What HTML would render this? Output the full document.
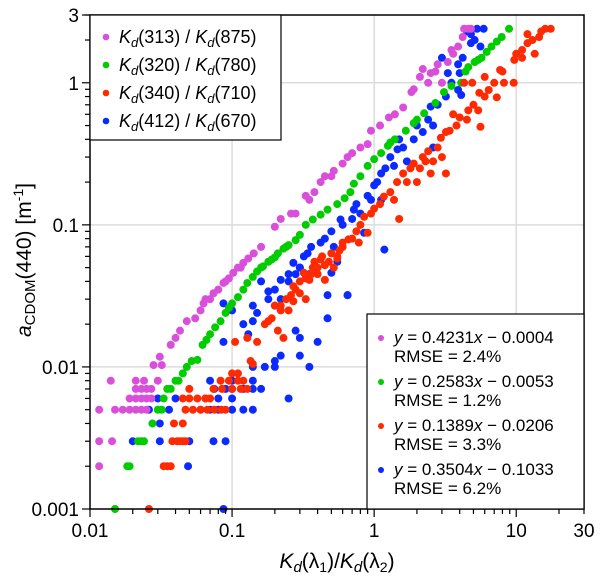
<!DOCTYPE html>
<html><head><meta charset="utf-8">
<style>
html,body{margin:0;padding:0;background:#fff;}
svg{display:block;font-family:"Liberation Sans",sans-serif;}
</style></head>
<body>
<svg id="chart" width="600" height="582" viewBox="0 0 600 582" xmlns="http://www.w3.org/2000/svg">
<g id="grid"></g>
<g id="points"></g>
<rect x="90" y="15" width="494" height="494" fill="none" stroke="#000" stroke-width="1.5"/>
<g id="axes"></g>
<text x="337" y="568" font-size="21" text-anchor="middle"><tspan font-style="italic">K</tspan><tspan font-style="italic" font-size="15" dy="4">d</tspan><tspan dy="-4">(λ</tspan><tspan font-size="14" dy="4">1</tspan><tspan dy="-4">)/</tspan><tspan font-style="italic">K</tspan><tspan font-style="italic" font-size="15" dy="4">d</tspan><tspan dy="-4">(λ</tspan><tspan font-size="14" dy="4">2</tspan><tspan dy="-4">)</tspan></text>
<text transform="translate(31,260) rotate(-90)" font-size="21" text-anchor="middle"><tspan font-style="italic">a</tspan><tspan font-size="15" dy="4">CDOM</tspan><tspan dy="-4">(440) [m</tspan><tspan font-size="14" dy="-8">-1</tspan><tspan dy="8">]</tspan></text>
<g>
<rect x="90" y="15" width="191" height="125" fill="#fff" stroke="#000" stroke-width="1.2"/>
<g id="leg1"></g>
</g>
<g>
<rect x="367" y="314" width="217" height="195" fill="#fff" stroke="#000" stroke-width="1.2"/>
<g id="leg2"></g>
</g>
</svg>
<script>
// ---- data ----
const xTicks = [0.01, 0.1, 1, 10, 30];
const xTickLabels = ["0.01", "0.1", "1", "10", "30"];
const yTicks = [0.001, 0.01, 0.1, 1, 3];
const yTickLabels = ["0.001", "0.01", "0.1", "1", "3"];
const seriesNames = ["313/875", "320/780", "340/710", "412/670"];
const seriesColors = ["#d94fd9", "#00cc00", "#ff2a00", "#0a2aff"];
const fitEquations = ["0.4231x − 0.0004", "0.2583x − 0.0053", "0.1389x − 0.0206", "0.3504x − 0.1033"];
const fitRmse = ["2.4%", "1.2%", "3.3%", "6.2%"];

const magentaX = [0.0116,0.0116,0.0143,0.0116,0.015,0.017,0.019,0.021,0.023,0.025,0.019,0.021,0.023,0.025,0.027,0.021,0.023,0.025,0.027,0.021,0.024,0.014,0.03,0.028,0.032,0.031,0.037,0.04,0.043,0.048,0.055,0.06,0.063,0.074,0.08,0.087,0.095,0.102,0.11,0.12,0.13,0.142,0.2,0.22,0.26,0.35,0.33,0.42,0.45,0.52,0.65,0.7,0.9,0.95,1.27,1.6,1.83,1.9,2.5,2.4,3.0,3.3,3.9,4.6,4.3,2.2,2.8,3.6,0.065,0.07,0.09,0.115,0.16,0.28,0.38,0.5,0.6,0.8,1.1,1.4,2.1,2.7,3.5,4.2,4.8];
const magentaY = [0.002,0.003,0.003,0.005,0.005,0.005,0.005,0.005,0.005,0.005,0.006,0.006,0.006,0.006,0.006,0.007,0.007,0.007,0.007,0.008,0.008,0.008,0.008,0.0103,0.0103,0.0118,0.0143,0.016,0.018,0.021,0.022,0.025,0.028,0.033,0.035,0.039,0.042,0.046,0.05,0.054,0.058,0.063,0.097,0.11,0.12,0.15,0.16,0.2,0.22,0.24,0.3,0.32,0.37,0.46,0.57,0.67,0.86,0.9,1.17,1.0,1.0,1.4,1.8,2.4,2.4,1.25,1.35,1.6,0.03,0.03,0.04,0.05,0.07,0.12,0.17,0.22,0.27,0.35,0.5,0.6,1.1,1.2,1.7,2.1,2.4];

const greenX = [0.015,0.0183,0.019,0.0218,0.023,0.024,0.0275,0.03,0.032,0.033,0.035,0.037,0.04,0.042,0.045,0.048,0.052,0.057,0.062,0.066,0.07,0.076,0.083,0.09,0.095,0.1,0.11,0.12,0.128,0.14,0.15,0.165,0.18,0.2,0.21,0.23,0.25,0.28,0.3,0.37,0.42,0.47,0.62,0.72,0.8,0.9,1.0,1.12,1.25,1.4,1.67,1.9,2.25,2.7,3.1,4.1,4.6,5.1,5.7,6.2,6.7,7.3,7.9,8.9,0.16,0.19,0.24,0.33,0.55,0.68,1.3,2.0,3.5,4.4,5.4];
const greenY = [0.001,0.002,0.002,0.003,0.003,0.003,0.004,0.005,0.005,0.006,0.007,0.007,0.008,0.008,0.009,0.01,0.011,0.0112,0.0143,0.0155,0.017,0.019,0.021,0.024,0.026,0.028,0.031,0.035,0.039,0.043,0.047,0.051,0.055,0.059,0.063,0.068,0.072,0.078,0.085,0.109,0.118,0.128,0.154,0.195,0.22,0.26,0.29,0.32,0.36,0.4,0.46,0.52,0.61,0.72,0.86,1.0,1.29,1.4,1.5,1.65,1.8,1.95,2.1,2.4,0.05,0.057,0.07,0.1,0.14,0.17,0.38,0.55,0.95,1.2,1.45];

const redX = [0.026,0.033,0.035,0.037,0.038,0.041,0.043,0.045,0.047,0.039,0.045,0.047,0.053,0.06,0.067,0.075,0.084,0.09,0.045,0.05,0.057,0.065,0.07,0.05,0.074,0.085,0.1,0.115,0.128,0.083,0.095,0.11,0.12,0.1,0.11,0.105,0.128,0.135,0.14,0.18,0.21,0.23,0.22,0.27,0.32,0.37,0.42,0.5,0.57,0.35,0.45,0.52,0.66,0.78,0.9,0.27,0.2,0.3,0.4,0.45,0.55,0.6,0.25,0.33,0.85,1.0,1.17,1.5,1.38,1.6,1.9,2.2,2.6,2.5,2.8,2.95,3.4,4.0,4.6,5.4,5.6,6.4,7.3,8.2,9.6,7.7,9.7,11,13,14.5,13.5,17.5,4.3,4.9,3.2,2.0,3.6,6.0,12,0.15,0.17,0.19,0.22,0.24,0.26,0.28,0.3,0.33,0.36,0.38,0.4,0.43,0.48,0.55,0.6,0.7,0.75,0.8,0.95,1.1,1.3,1.45,1.7,1.8,2.1,2.3,2.4,3.0,3.2,3.8,4.5,5.0,5.5,6.0,7.0,8.0,10,11,12,15,16];
const redY = [0.001,0.002,0.002,0.002,0.003,0.003,0.003,0.003,0.003,0.004,0.004,0.005,0.005,0.005,0.005,0.005,0.005,0.005,0.006,0.006,0.006,0.006,0.006,0.007,0.007,0.007,0.007,0.007,0.007,0.008,0.008,0.008,0.008,0.009,0.009,0.015,0.016,0.011,0.0105,0.021,0.018,0.016,0.027,0.037,0.046,0.05,0.057,0.063,0.066,0.041,0.041,0.05,0.079,0.075,0.088,0.029,0.027,0.033,0.045,0.052,0.058,0.07,0.025,0.03,0.114,0.13,0.158,0.11,0.15,0.23,0.27,0.3,0.28,0.23,0.35,0.41,0.46,0.57,0.64,0.64,0.49,0.89,0.79,1.0,1.0,1.23,1.45,1.7,2.0,2.1,1.6,2.4,1.0,1.0,0.23,0.2,0.6,1.1,1.9,0.015,0.02,0.022,0.025,0.03,0.032,0.035,0.04,0.042,0.045,0.055,0.05,0.06,0.055,0.06,0.075,0.08,0.09,0.1,0.12,0.14,0.17,0.2,0.2,0.25,0.25,0.28,0.33,0.3,0.45,0.5,0.55,0.7,0.85,0.8,1.0,1.2,1.6,1.5,2.2,2.3,2.4];

const blueX = [0.087,0.049,0.031,0.05,0.074,0.09,0.02,0.031,0.026,0.036,0.06,0.07,0.08,0.1,0.12,0.14,0.03,0.04,0.065,0.08,0.1,0.075,0.09,0.1,0.12,0.14,0.16,0.07,0.1,0.14,0.14,0.17,0.2,0.25,0.2,0.087,0.14,0.15,0.18,0.22,0.27,0.34,0.42,0.5,0.47,0.65,0.47,0.3,0.4,0.087,0.14,0.2,0.28,0.36,0.52,0.65,0.72,0.58,0.85,1.0,1.12,1.12,1.46,1.38,1.7,1.9,2.4,2.5,3.9,4.1,4.0,3.3,3.9,5.1,5.6,4.5,5.9,3.0,1.18,2.6,0.25,0.3,0.55,0.8,0.9,0.18,0.2,0.22,0.25,0.28,0.3,0.32,0.35,0.38,0.45,0.5,0.6,0.7,0.75,0.95,1.05,1.2,1.3,1.5,1.6,2.0,2.2,2.6,2.8,3.2,3.5,4.2,4.8,5.3,4.8,0.12,0.13,0.1,0.16,0.22,0.3,0.35];
const blueY = [0.001,0.002,0.003,0.003,0.003,0.003,0.003,0.004,0.005,0.005,0.005,0.005,0.005,0.005,0.005,0.005,0.006,0.006,0.006,0.006,0.006,0.007,0.007,0.007,0.007,0.007,0.007,0.008,0.008,0.008,0.01,0.01,0.01,0.006,0.011,0.015,0.021,0.024,0.034,0.041,0.054,0.063,0.075,0.046,0.032,0.032,0.022,0.016,0.015,0.028,0.027,0.027,0.018,0.07,0.07,0.032,0.128,0.109,0.088,0.19,0.23,0.15,0.34,0.26,0.28,0.4,0.55,0.68,0.89,0.82,1.17,1.17,1.35,2.0,1.8,2.3,2.4,1.5,0.067,0.35,0.04,0.05,0.055,0.12,0.16,0.03,0.035,0.03,0.045,0.045,0.05,0.06,0.045,0.05,0.08,0.09,0.1,0.11,0.14,0.15,0.2,0.25,0.3,0.4,0.35,0.5,0.45,0.5,0.7,0.8,1.0,1.5,2.2,2.4,1.9,0.02,0.017,0.025,0.04,0.012,0.012,0.01];

const seriesX = [magentaX, greenX, redX, blueX];
const seriesY = [magentaY, greenY, redY, blueY];

// ---- scales ----
const X0 = 90, X1 = 584, Y0 = 509, Y1 = 15;
const xmin = Math.log10(0.01), xmax = Math.log10(30);
const ymin = Math.log10(0.001), ymax = Math.log10(3);
function sx(v){ return X0 + (Math.log10(v) - xmin) / (xmax - xmin) * (X1 - X0); }
function sy(v){ return Y0 - (Math.log10(v) - ymin) / (ymax - ymin) * (Y0 - Y1); }

const NS = "http://www.w3.org/2000/svg";
function mk(tag, attrs, parent){
  const e = document.createElementNS(NS, tag);
  for (const k in attrs) e.setAttribute(k, attrs[k]);
  parent.appendChild(e);
  return e;
}
const grid = document.getElementById('grid');
const axes = document.getElementById('axes');
const pts = document.getElementById('points');

[0.1, 1, 10].forEach(v => {
  const l = mk('line', {x1: sx(v), x2: sx(v), y1: Y1, y2: Y0, stroke: '#dcdcdc', 'stroke-width': 1.5}, grid);
  
  
});
[0.01, 0.1, 1].forEach(v => {
  const l = mk('line', {x1: X0, x2: X1, y1: sy(v), y2: sy(v), stroke: '#dcdcdc', 'stroke-width': 1.5}, grid);
  
  
});

for (let d = -2; d <= 1; d++) {
  for (let m = 1; m <= 9; m++) {
    const v = m * Math.pow(10, d);
    if (v > 30.0001) continue;
    const len = m === 1 ? 8 : 5;
    const t = mk('line', {x1: sx(v), x2: sx(v), y1: Y0, y2: Y0 + len, stroke: '#000', 'stroke-width': 1.2}, axes);
    
    
  }
}
for (let d = -3; d <= 0; d++) {
  for (let m = 1; m <= 9; m++) {
    const v = m * Math.pow(10, d);
    if (v > 3.0001) continue;
    const len = m === 1 ? 8 : 5;
    const t = mk('line', {x1: X0 - len, x2: X0, y1: sy(v), y2: sy(v), stroke: '#000', 'stroke-width': 1.2}, axes);
    
    
  }
}
const t3 = mk('line', {x1: X0 - 8, x2: X0, y1: sy(3), y2: sy(3), stroke: '#000', 'stroke-width': 1.2}, axes);



xTicks.forEach((v, i) => {
  const t = mk('text', {x: sx(v), y: 537, 'font-size': 19, 'text-anchor': 'middle'}, axes);
  t.textContent = xTickLabels[i];
  
  
});
yTicks.forEach((v, i) => {
  const t = mk('text', {x: 79, y: sy(v) + 7, 'font-size': 19, 'text-anchor': 'end'}, axes);
  t.textContent = yTickLabels[i];
  
  
});

[3, 0, 1, 2].forEach(si => {
  const g = mk('g', {fill: seriesColors[si]}, pts);
  
  
  seriesX[si].forEach((xv, i) => {
    const c = mk('circle', {cx: sx(xv), cy: sy(seriesY[si][i]), r: 4}, g);
    
    
  });
});

const leg1 = document.getElementById('leg1');
seriesNames.forEach((n, i) => {
  const y = 37 + i * 28;
  const c = mk('circle', {cx: 106, cy: y, r: 3.3, fill: seriesColors[i]}, leg1);
  
  
  const p = n.split('/');
  const t = mk('text', {x: 119, y: y + 6, 'font-size': 18}, leg1);
  t.innerHTML = '<tspan font-style="italic">K</tspan><tspan font-style="italic" font-size="13" dy="4">d</tspan><tspan dy="-4">(' + p[0] + ') / </tspan><tspan font-style="italic">K</tspan><tspan font-style="italic" font-size="13" dy="4">d</tspan><tspan dy="-4">(' + p[1] + ')</tspan>';
  
  
});

const leg2 = document.getElementById('leg2');
fitEquations.forEach((eq, i) => {
  const y = 343 + i * 44;
  const c = mk('circle', {cx: 381, cy: y - 5, r: 3, fill: seriesColors[i]}, leg2);
  
  
  const parts = eq.split('x');
  const t = mk('text', {x: 394, y: y, 'font-size': 17}, leg2);
  t.innerHTML = '<tspan font-style="italic">y</tspan> = ' + parts[0] + '<tspan font-style="italic">x</tspan>' + parts[1];
  
  
  const r = mk('text', {x: 394, y: y + 19, 'font-size': 17}, leg2);
  r.textContent = 'RMSE = ' + fitRmse[i];
  
  
});
</script>
</body></html>
